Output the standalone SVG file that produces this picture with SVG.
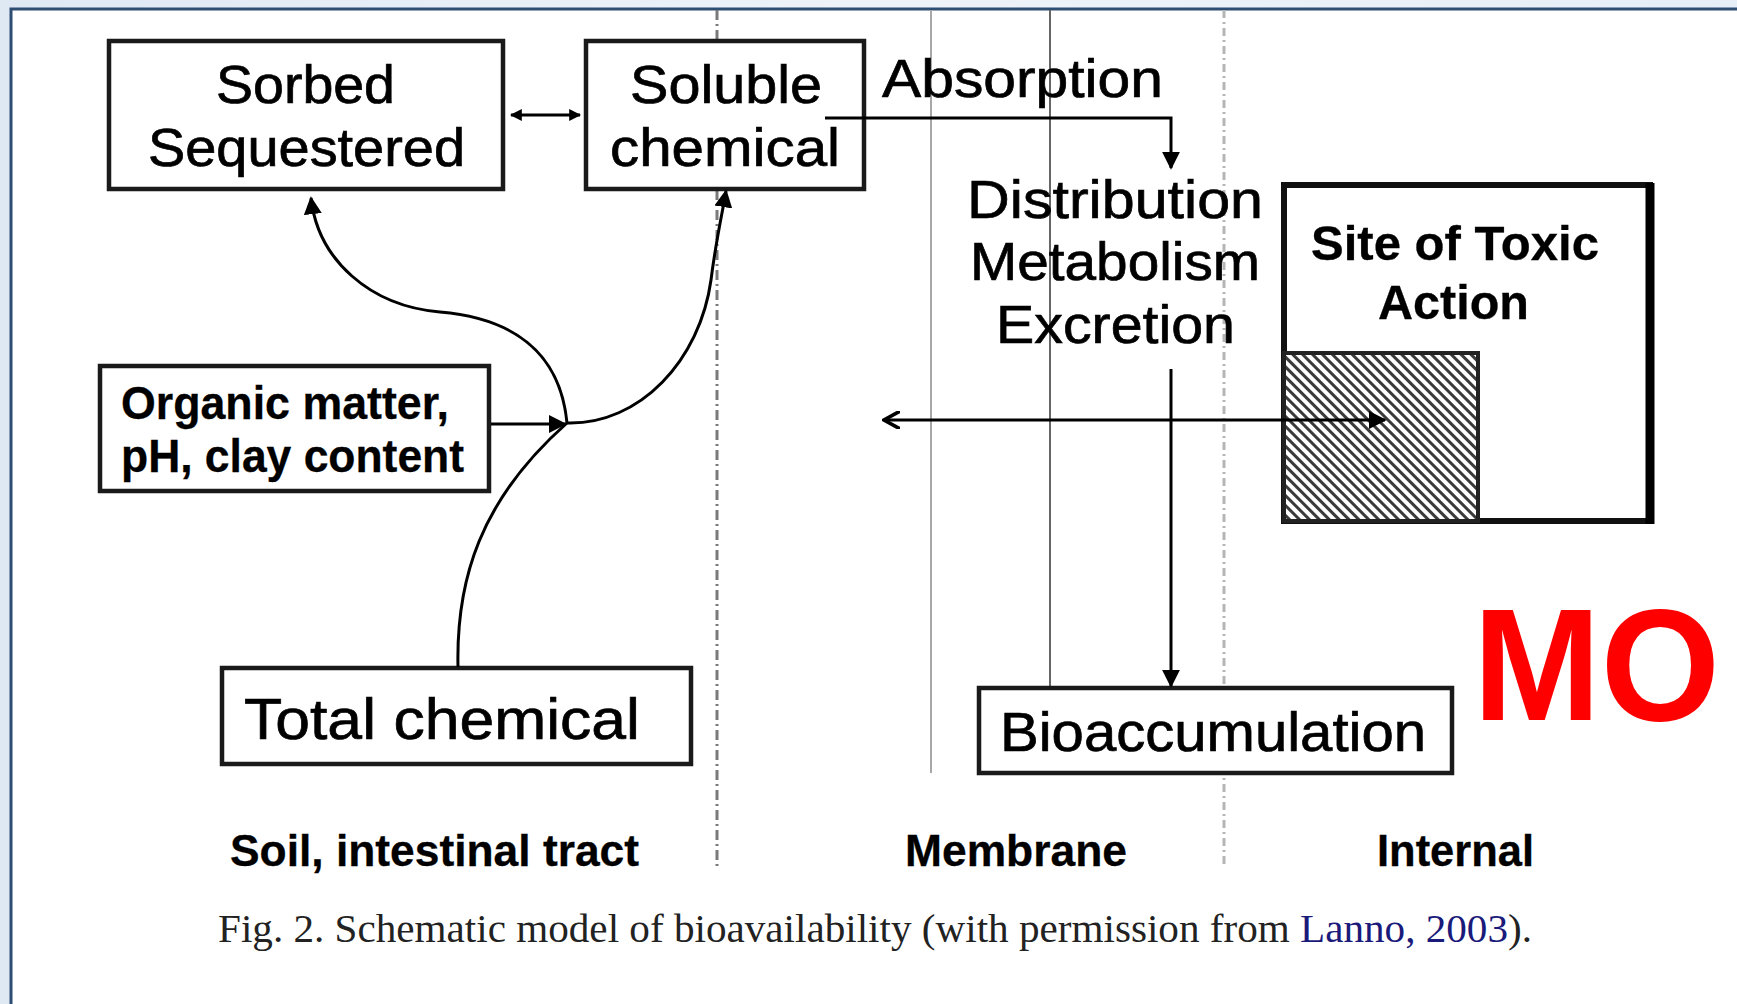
<svg xmlns="http://www.w3.org/2000/svg" width="1737" height="1004" viewBox="0 0 1737 1004">
<defs>
<linearGradient id="bg" x1="0" y1="0" x2="1" y2="0">
<stop offset="0" stop-color="#dfe9f4"/>
<stop offset="0.5" stop-color="#eef3f9"/>
<stop offset="1" stop-color="#e6eef7"/>
</linearGradient>
<pattern id="hatch" width="7" height="7" patternUnits="userSpaceOnUse" patternTransform="rotate(45)">
<rect width="7" height="7" fill="#ffffff"/>
<rect x="0" y="0" width="7" height="3" fill="#3a3a3a"/>
</pattern>
<marker id="ah" viewBox="0 0 10 10" refX="9" refY="5" markerWidth="6" markerHeight="6" markerUnits="strokeWidth" orient="auto-start-reverse">
<path d="M0,0 L10,5 L0,10 z" fill="#000"/>
</marker>
<marker id="ahs" viewBox="0 0 10 10" refX="9" refY="5" markerWidth="4" markerHeight="4" markerUnits="strokeWidth" orient="auto-start-reverse">
<path d="M0,0 L10,5 L0,10 z" fill="#000"/>
</marker>
<marker id="ahOpen" viewBox="0 0 10 10" refX="1" refY="5" markerWidth="6" markerHeight="6" markerUnits="strokeWidth" orient="auto">
<path d="M10,0 L1,5 L10,10" fill="none" stroke="#000" stroke-width="2"/>
</marker>
</defs>
<style>
.box{fill:#fff;stroke:#1a1a1a;stroke-width:4.5}
.t{font-family:"Liberation Sans",Arial,sans-serif;fill:#000;stroke:#000;stroke-width:0.7}
.big{font-size:54px}
.bold{font-weight:bold;stroke-width:0.3}
.conn{fill:none;stroke:#000;stroke-width:3}
.cap{font-family:"Liberation Serif","Times New Roman",serif;font-size:40px;fill:#222}
</style>
<rect x="0" y="0" width="1737" height="1004" fill="url(#bg)"/>
<rect x="11" y="9" width="1740" height="1010" fill="#ffffff" stroke="#2e4d72" stroke-width="3"/>

<g id="zone-lines">
<line x1="717" y1="10" x2="717" y2="866" stroke="#7a7a7a" stroke-width="3" stroke-dasharray="10,4,2,4"/>
<line x1="931" y1="10" x2="931" y2="773" stroke="#a8a8a8" stroke-width="2"/>
<line x1="1050" y1="10" x2="1050" y2="773" stroke="#666" stroke-width="2"/>
<line x1="1224" y1="10" x2="1224" y2="866" stroke="#b5b5b5" stroke-width="3" stroke-dasharray="8,4,2,4"/>
</g>

<g id="node-sorbed">
<rect class="box" x="109" y="41" width="394" height="148"/>
<text class="t big" x="216" y="103" textLength="179" lengthAdjust="spacingAndGlyphs">Sorbed</text>
<text class="t big" x="148" y="166" textLength="317" lengthAdjust="spacingAndGlyphs">Sequestered</text>
</g>

<g id="node-soluble">
<rect class="box" x="586" y="41" width="278" height="148"/>
<text class="t big" x="630" y="103" textLength="192" lengthAdjust="spacingAndGlyphs">Soluble</text>
<text class="t big" x="610" y="166" textLength="230" lengthAdjust="spacingAndGlyphs">chemical</text>
</g>

<g id="label-absorption">
<text class="t big" x="882" y="97" textLength="281" lengthAdjust="spacingAndGlyphs">Absorption</text>
</g>

<g id="label-dme">
<text class="t big" x="967" y="218" textLength="296" lengthAdjust="spacingAndGlyphs">Distribution</text>
<text class="t big" x="970" y="280" textLength="290" lengthAdjust="spacingAndGlyphs">Metabolism</text>
<text class="t big" x="996" y="343" textLength="239" lengthAdjust="spacingAndGlyphs">Excretion</text>
</g>

<g id="node-site">
<rect x="1284" y="185" width="366" height="336" fill="#fff" stroke="#111" stroke-width="6"/>
<line x1="1650" y1="183" x2="1650" y2="524" stroke="#000" stroke-width="9"/>
<rect x="1284" y="353" width="194" height="168" fill="url(#hatch)" stroke="#222" stroke-width="4"/>
<text class="t bold" x="1311" y="260" font-size="48" textLength="288" lengthAdjust="spacingAndGlyphs">Site of Toxic</text>
<text class="t bold" x="1378" y="319" font-size="48" textLength="151" lengthAdjust="spacingAndGlyphs">Action</text>
</g>

<g id="node-organic">
<rect class="box" x="100" y="366" width="389" height="125"/>
<text class="t bold" x="121" y="419" font-size="46" textLength="328" lengthAdjust="spacingAndGlyphs">Organic matter,</text>
<text class="t bold" x="121" y="472" font-size="46" textLength="343" lengthAdjust="spacingAndGlyphs">pH, clay content</text>
</g>

<g id="node-total">
<rect class="box" x="222" y="668" width="469" height="96"/>
<text class="t" x="244" y="739" font-size="58" textLength="396" lengthAdjust="spacingAndGlyphs">Total chemical</text>
</g>

<g id="node-bioacc">
<rect class="box" x="979" y="688" width="473" height="85"/>
<text class="t" x="1000" y="751" font-size="56" textLength="426" lengthAdjust="spacingAndGlyphs">Bioaccumulation</text>
</g>

<g id="connectors">
<line class="conn" x1="511" y1="115" x2="580" y2="115" stroke-width="3" marker-start="url(#ahs)" marker-end="url(#ahs)"/>
<polyline class="conn" points="825,118 1171,118 1171,168" marker-end="url(#ah)"/>
<line class="conn" x1="491" y1="424" x2="565" y2="424" stroke-width="4" marker-end="url(#ah)"/>
<path class="conn" d="M567,423 C560,350 510,318 440,312 C370,306 318,260 311,198" marker-end="url(#ah)"/>
<path class="conn" d="M567,423 C640,425 700,360 711,280 C716,240 722,215 726,191" marker-end="url(#ah)"/>
<path class="conn" d="M458,667 C456,580 480,500 567,423"/>
<line class="conn" x1="1171" y1="369" x2="1171" y2="686" marker-end="url(#ah)"/>
<line class="conn" x1="884" y1="420" x2="1385" y2="420" marker-start="url(#ahOpen)" marker-end="url(#ah)"/>
</g>

<g id="zone-labels">
<text class="t bold" x="230" y="866" font-size="44" textLength="409" lengthAdjust="spacingAndGlyphs">Soil, intestinal tract</text>
<text class="t bold" x="905" y="866" font-size="44" textLength="222" lengthAdjust="spacingAndGlyphs">Membrane</text>
<text class="t bold" x="1377" y="866" font-size="44" textLength="157" lengthAdjust="spacingAndGlyphs">Internal</text>
</g>

<g id="caption">
<text class="cap" x="218" y="942" textLength="1314" lengthAdjust="spacingAndGlyphs">Fig. 2.  Schematic model of bioavailability (with permission from <tspan fill="#1a1a7a">Lanno, 2003</tspan>).</text>
</g>

<g id="watermark">
<text x="1473" y="720" font-family="Liberation Sans,Arial,sans-serif" font-weight="bold" font-size="160" fill="#ff0000" textLength="247" lengthAdjust="spacingAndGlyphs">MO</text>
</g>
</svg>
